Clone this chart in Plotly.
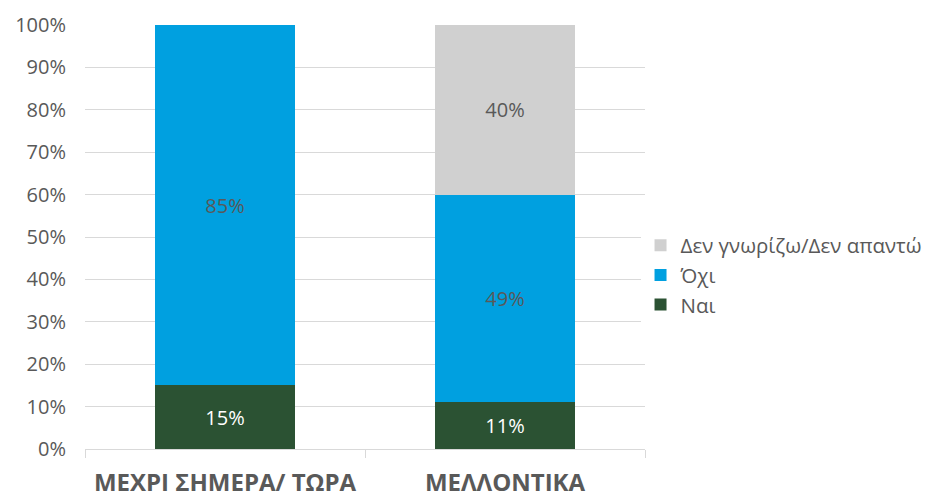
import plotly.graph_objects as go

categories = ["ΜΕΧΡΙ ΣΗΜΕΡΑ/ ΤΩΡΑ", "ΜΕΛΛΟΝΤΙΚΑ"]
series_names = ["Ναι", "Όχι", "Δεν γνωρίζω/Δεν απαντώ"]
nai = [15, 11]
oxi = [85, 49]
dk = [None, 40]
colors = ["#2B5233", "#00A0E0", "#D0D0D0"]
label_colors = ["white", "#595959", "#595959"]
tick_vals = [0, 10, 20, 30, 40, 50, 60, 70, 80, 90, 100]
tick_text = [f"{v}%" for v in tick_vals]

fig = go.Figure()
for name, vals, col, lc in zip(series_names, [nai, oxi, dk], colors, label_colors):
    fig.add_trace(go.Bar(
        x=categories, y=vals, name=name, legendgroup=name,
        marker=dict(color=col, line=dict(width=0)),
        text=[f"{v}%" if v is not None else "" for v in vals],
        textposition="inside", insidetextanchor="middle",
        textfont=dict(family="Open Sans", size=20, color=lc),
        width=0.5,
    ))

fig.update_layout(
    barmode="stack",
    width=931, height=499,
    margin=dict(l=85, r=286, t=25, b=50, autoexpand=False),
    paper_bgcolor="white", plot_bgcolor="white",
    font=dict(family="Open Sans", color="#595959"),
    legend=dict(
        traceorder="reversed", xref="container", yref="container",
        x=0.688, y=0.449, yanchor="middle", xanchor="left",
        font=dict(family="Open Sans", size=20.5, color="#595959"),
        itemwidth=30, tracegroupgap=8, borderwidth=0,
    ),
    uniformtext=dict(mode=False),
)
fig.update_yaxes(
    range=[0, 100], tickvals=tick_vals, ticktext=tick_text,
    showgrid=True, gridcolor="#D9D9D9", gridwidth=1.2,
    tickfont=dict(family="Open Sans", size=20, color="#595959"),
    zeroline=False, showline=False, ticks="", ticklabelstandoff=18,
    automargin=False,
)
fig.update_xaxes(
    showline=True, linecolor="#D9D9D9", linewidth=1.2,
    ticks="outside", tickson="boundaries", ticklen=8, tickcolor="#D9D9D9",
    tickfont=dict(family="Open Sans", size=24, color="#595959", weight="bold"),
    tickangle=0, ticklabelstandoff=12, automargin=False,
)
fig.write_html("out.html", config={"displayModeBar": False},
               post_script="document.body.style.margin='0';")
